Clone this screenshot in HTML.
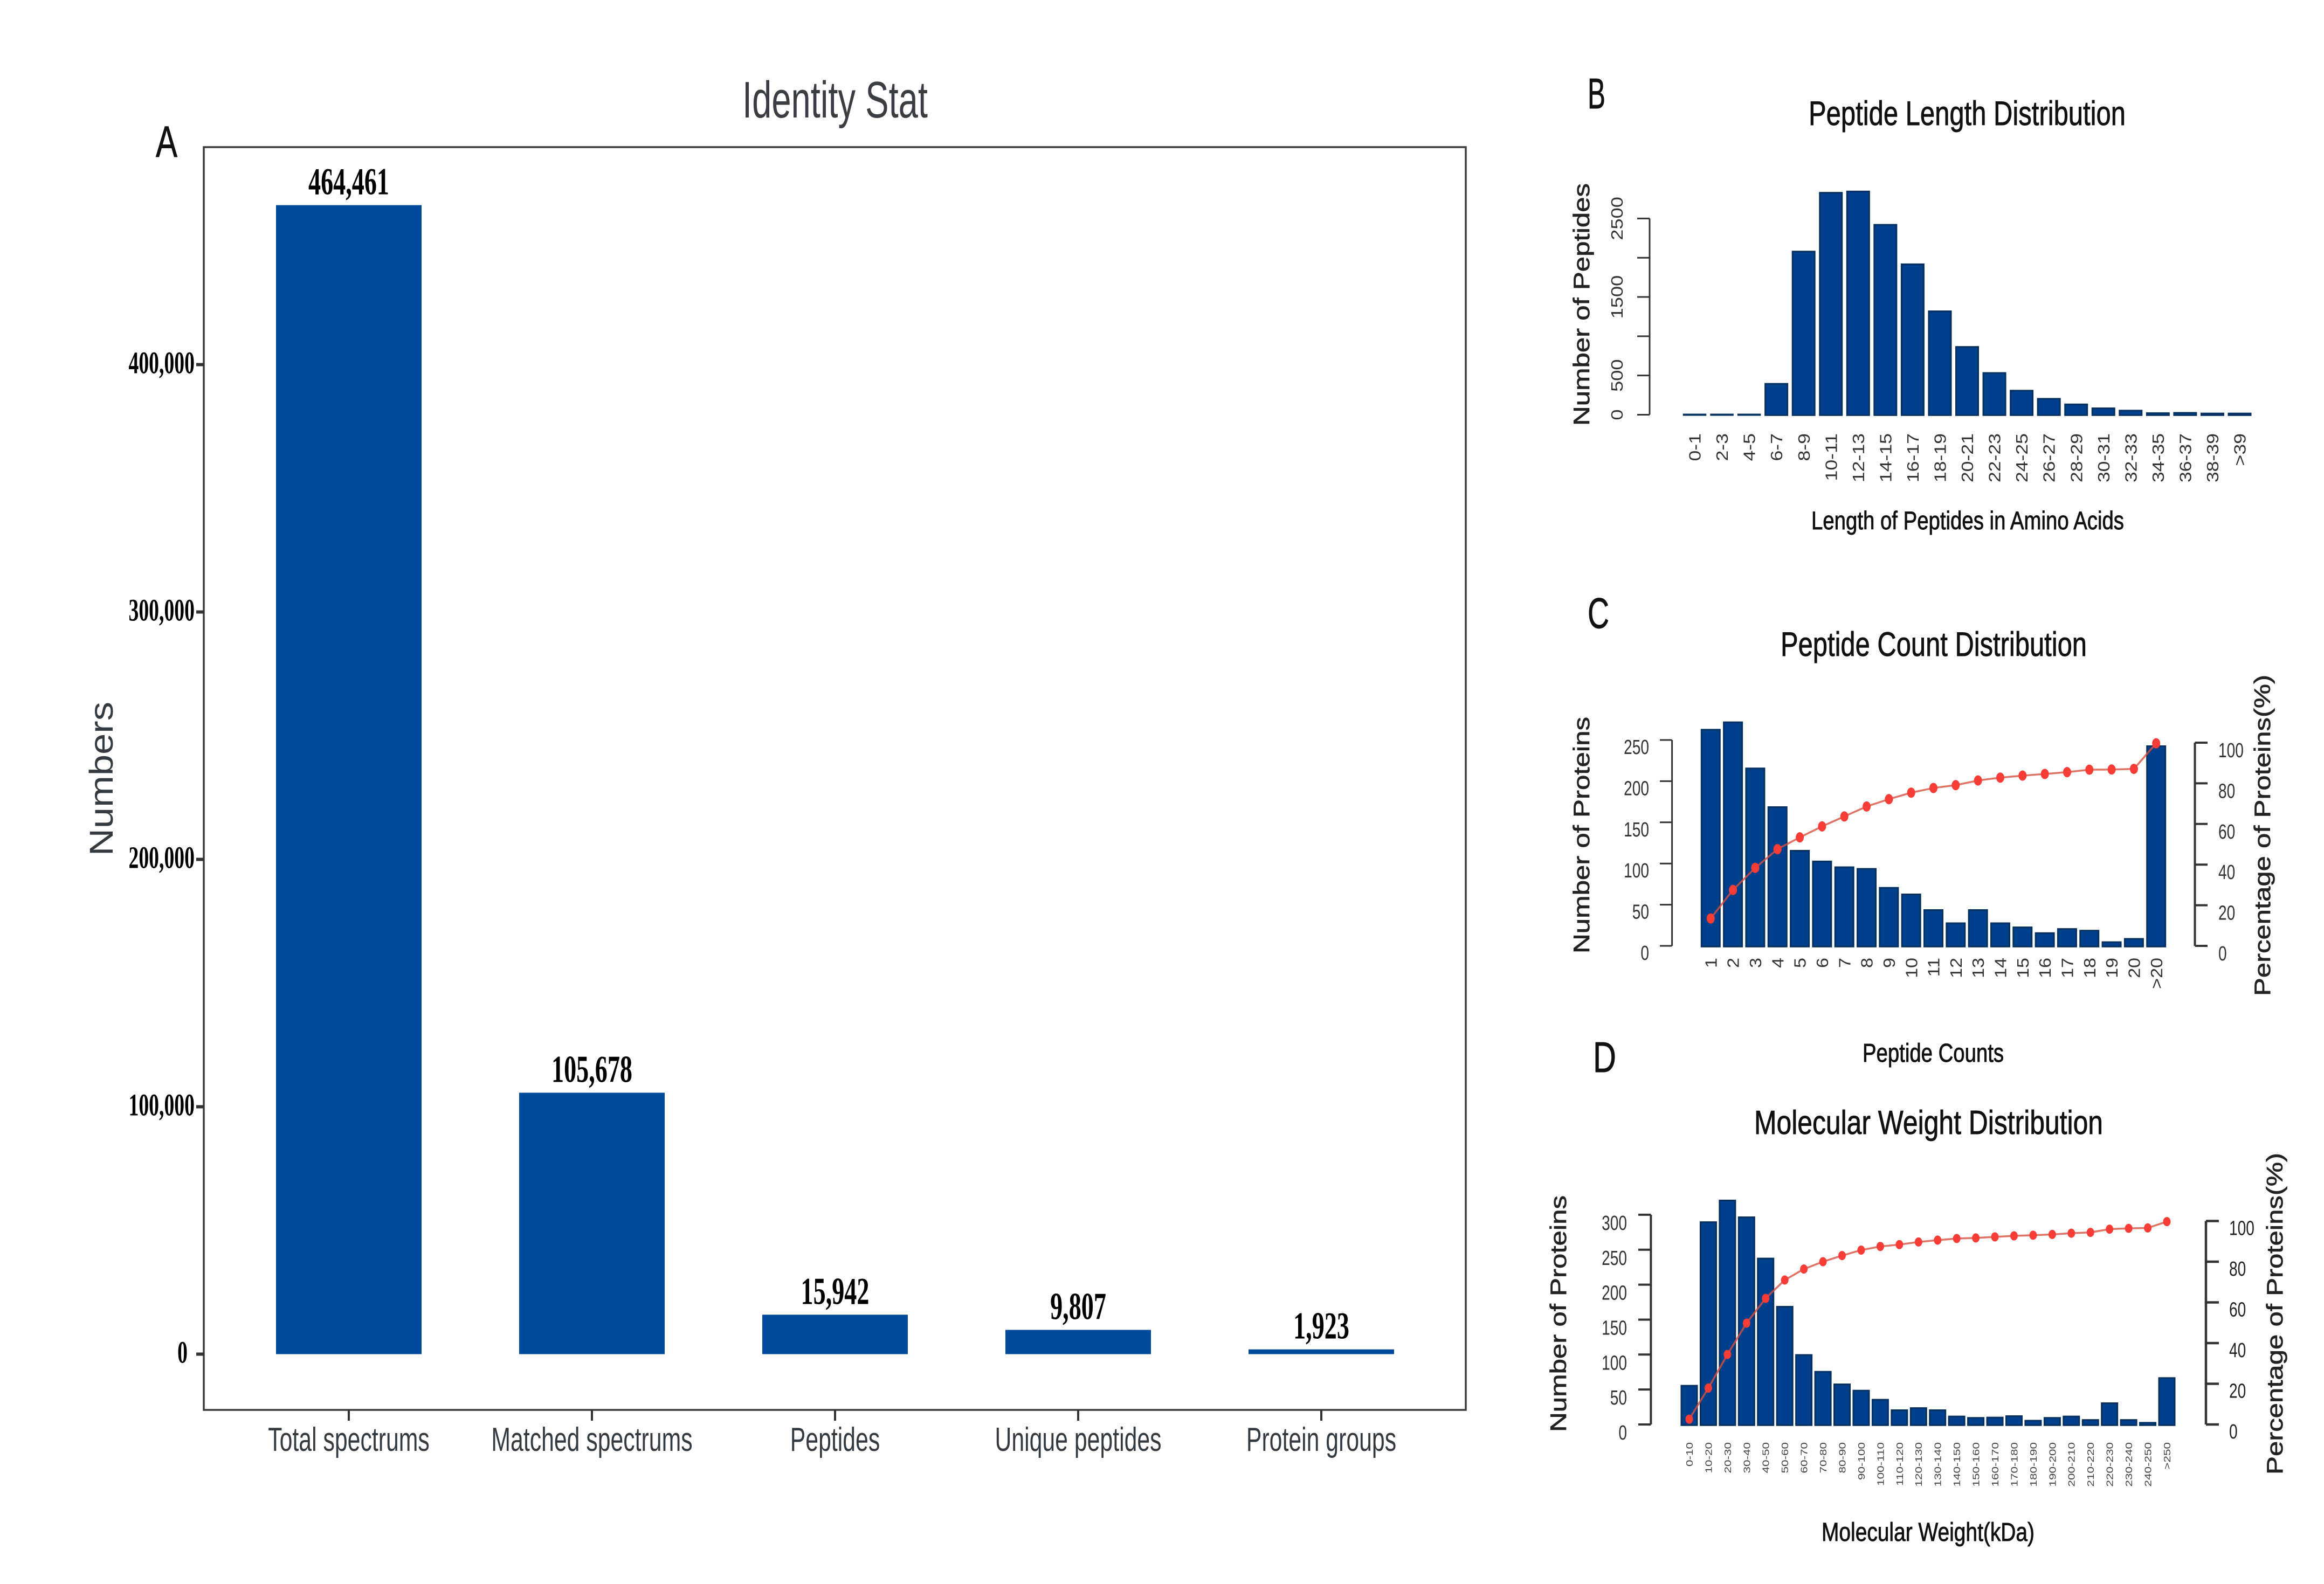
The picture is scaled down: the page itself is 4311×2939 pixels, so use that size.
<!DOCTYPE html>
<html lang="en">
<head>
<meta charset="utf-8">
<title>Identity statistics</title>
<style>
html,body{margin:0;padding:0;background:#fff;width:4311px;height:2939px;overflow:hidden}
svg{display:block}
text{font-family:"Liberation Sans",sans-serif}
.serif{font-family:"Liberation Serif",serif;font-weight:bold}
.heavy{stroke:#111;stroke-width:.9px}
.heavy2{stroke:#222;stroke-width:.7px}
</style>
</head>
<body>
<svg id="fig" xmlns="http://www.w3.org/2000/svg" width="4311" height="2939" viewBox="0 0 4311 2939">
<rect width="4311" height="2939" fill="#fff"/>

<!-- Panel A -->
<g id="panelA">
<text class="heavy" x="289" y="291" font-size="82" textLength="40" lengthAdjust="spacingAndGlyphs" fill="#111">A</text>
<text x="1377" y="218" font-size="96" textLength="344" lengthAdjust="spacingAndGlyphs" fill="#3a3d42">Identity Stat</text>
<text transform="translate(209,1588) rotate(-90)" font-size="61" textLength="286" lengthAdjust="spacingAndGlyphs" fill="#333a40">Numbers</text>
<rect x="378" y="273" width="2341" height="2343" fill="none" stroke="#3c3c3c" stroke-width="3.5"/>
</g>

<!-- Panel B -->
<g id="panelB">
<text class="heavy" x="2945" y="201" font-size="80" textLength="33" lengthAdjust="spacingAndGlyphs" fill="#111">B</text>
<text class="heavy" x="3355" y="232" font-size="63" textLength="588" lengthAdjust="spacingAndGlyphs" fill="#111">Peptide Length Distribution</text>
<text class="heavy" x="3360" y="982" font-size="47" textLength="580" lengthAdjust="spacingAndGlyphs" fill="#111">Length of Peptides in Amino Acids</text>
<text class="heavy2" transform="translate(2948,790) rotate(-90)" font-size="42" textLength="450" lengthAdjust="spacingAndGlyphs" fill="#222">Number of Peptides</text>
</g>

<!-- Panel C -->
<g id="panelC">
<text class="heavy" x="2945" y="1165" font-size="80" textLength="40" lengthAdjust="spacingAndGlyphs" fill="#111">C</text>
<text class="heavy" x="3303" y="1217" font-size="63" textLength="568" lengthAdjust="spacingAndGlyphs" fill="#111">Peptide Count Distribution</text>
<text class="heavy" x="3455" y="1970" font-size="48" textLength="262" lengthAdjust="spacingAndGlyphs" fill="#111">Peptide Counts</text>
<text class="heavy2" transform="translate(2948,1769) rotate(-90)" font-size="42" textLength="439" lengthAdjust="spacingAndGlyphs" fill="#222">Number of Proteins</text>
<text class="heavy2" transform="translate(4211,1848) rotate(-90)" font-size="42" textLength="596" lengthAdjust="spacingAndGlyphs" fill="#222">Percentage of Proteins(%)</text>
</g>

<!-- Panel D -->
<g id="panelD">
<text class="heavy" x="2955" y="1989" font-size="80" textLength="43" lengthAdjust="spacingAndGlyphs" fill="#111">D</text>
<text class="heavy" x="3254" y="2104" font-size="62" textLength="647" lengthAdjust="spacingAndGlyphs" fill="#111">Molecular Weight Distribution</text>
<text class="heavy" x="3379" y="2859" font-size="48" textLength="395" lengthAdjust="spacingAndGlyphs" fill="#111">Molecular Weight(kDa)</text>
<text class="heavy2" transform="translate(2905,2657) rotate(-90)" font-size="42" textLength="439" lengthAdjust="spacingAndGlyphs" fill="#222">Number of Proteins</text>
<text class="heavy2" transform="translate(4234,2736) rotate(-90)" font-size="42" textLength="597" lengthAdjust="spacingAndGlyphs" fill="#222">Percentage of Proteins(%)</text>
</g>
</svg>

<script>
// ---- Panel A data ----
const aCategories = ['Total spectrums', 'Matched spectrums', 'Peptides', 'Unique peptides', 'Protein groups'];
const aValues = [464461, 105678, 15942, 9807, 1923];
const aValueLabels = ['464,461', '105,678', '15,942', '9,807', '1,923'];
const aTicks = [0, 100000, 200000, 300000, 400000];
const aTickLabels = ['0', '100,000', '200,000', '300,000', '400,000'];

// ---- Panel B data ----
const bCategories = ['0-1','2-3','4-5','6-7','8-9','10-11','12-13','14-15','16-17','18-19','20-21','22-23','24-25','26-27','28-29','30-31','32-33','34-35','36-37','38-39','>39'];
const bValues = [8, 8, 8, 399, 2084, 2833, 2849, 2425, 1922, 1323, 869, 537, 312, 208, 137, 87, 58, 25, 29, 21, 21];
const bTicks = [0, 500, 1000, 1500, 2000, 2500];
const bTickLabels = ['0', '500', '', '1500', '', '2500'];

// ---- Panel C data ----
const cCategories = ['1','2','3','4','5','6','7','8','9','10','11','12','13','14','15','16','17','18','19','20','>20'];
const cCounts = [263, 272, 216, 169, 116, 103, 96, 94, 71, 63, 44, 28, 44, 28, 23, 16, 21, 19, 5, 9, 243];
const cPercent = [13.5, 27.5, 38.4, 47.6, 53.4, 58.8, 63.7, 68.6, 72.2, 75.4, 77.7, 79.1, 81.4, 82.8, 83.8, 84.6, 85.5, 86.7, 86.8, 87.1, 99.7];
const cLeftTicks = [0, 50, 100, 150, 200, 250];
const cRightTicks = [0, 20, 40, 60, 80, 100];

// ---- Panel D data ----
const dCategories = ['0-10','10-20','20-30','30-40','40-50','50-60','60-70','70-80','80-90','90-100','100-110','110-120','120-130','130-140','140-150','150-160','160-170','170-180','180-190','190-200','200-210','210-220','220-230','230-240','240-250','>250'];
const dCounts = [56, 290, 321, 297, 238, 169, 100, 76, 58, 49, 36, 21, 24, 21, 12, 10, 10.5, 12.5, 6, 10, 12, 7, 31, 7, 3, 67];
const dPercent = [2.6, 17.9, 34.4, 49.8, 62, 71, 76.4, 80, 83, 85.7, 87.5, 88.4, 89.7, 90.6, 91.4, 91.7, 92.2, 92.7, 93, 93.4, 94, 94.4, 96, 96.4, 96.6, 99.7];
const dLeftTicks = [0, 50, 100, 150, 200, 250, 300];
const dRightTicks = [0, 20, 40, 60, 80, 100];

// ---- Axis functions ----
const axA = { x: i => 647 + i * 451, y: v => 2512.5 - v * 0.00459, w: 270 };
const axB = { x: i => 3143.5 + i * 50.55, y: v => 769.5 - v * 0.14564, base: 771, w: 44 };
const axC = { x: i => 3173.3 + i * 41.32, y: v => 1755 - v * 1.528, yr: v => 1755 - v * 3.77, base: 1757, w: 37 };
const axD = { x: i => 3133.5 + i * 35.44, y: v => 2643 - v * 1.297, yr: v => 2643 - v * 3.775, base: 2645, w: 32 };

const NS = 'http://www.w3.org/2000/svg';
function mk(parent, tag, attrs, text) {
  const el = document.createElementNS(NS, tag);
  for (const k in attrs) el.setAttribute(k, attrs[k]);
  if (text !== undefined) el.textContent = text;
  parent.appendChild(el);
  return el;
}
function tickLine(parent, x1, y1, x2, y2, sw) {
  return mk(parent, 'line', { x1, y1, x2, y2, stroke: '#333', 'stroke-width': sw });
}
function hText(parent, x, y, str, fs, sx, anchor, fill) {
  return mk(parent, 'text', {
    transform: 'translate(' + x + ',' + y + ') scale(' + sx + ',1)',
    'font-size': fs, 'text-anchor': anchor, fill
  }, str);
}
function vText(parent, x, y, str, fs, sx, anchor, fill) {
  return mk(parent, 'text', {
    transform: 'translate(' + (x + fs * 0.358) + ',' + y + ') rotate(-90) scale(' + sx + ',1)',
    'font-size': fs, 'text-anchor': anchor, fill
  }, str);
}
function darkBar(parent, cx, top, base, w) {
  const h = Math.max(base - top, 3);
  const inset = 1.5;
  const sw = Math.min(3, h / 1.2);
  return mk(parent, 'rect', {
    x: cx - w / 2 + inset, y: base - h + inset * 0.5, width: w - 2 * inset, height: Math.max(h - inset, 1),
    fill: '#003f8c', stroke: '#06305f', 'stroke-width': sw
  });
}

// ---- Panel A draw ----
const gA = document.getElementById('panelA');
aTicks.forEach((v, i) => {
  const t = tickLine(gA, 364, axA.y(v), 379, axA.y(v), 6);
  
  
  const l = hText(gA, v === 0 ? 348 : 361, axA.y(v) + 16, aTickLabels[i], 58, 0.65, 'end', '#000');
  l.setAttribute('class', 'serif');
  
  
});
aCategories.forEach((c, i) => {
  const x = axA.x(i);
  const top = axA.y(aValues[i]);
  const b = mk(gA, 'rect', { x: x - axA.w / 2, y: top, width: axA.w, height: axA.y(0) - top, fill: '#004a9c' });
  
  
  const t = tickLine(gA, x, 2616, x, 2636, 4);
  
  
  const cl = hText(gA, x, 2692, c, 62, 0.69, 'middle', '#333a40');
  
  
  const vl = hText(gA, x, top - 20, aValueLabels[i], 71, 0.65, 'middle', '#000');
  vl.setAttribute('class', 'serif');
  
  
});

// ---- Panel B draw ----
const gB = document.getElementById('panelB');
const bAxisLine = tickLine(gB, 3060, axB.y(0), 3060, axB.y(2500), 3);


bTicks.forEach((v, i) => {
  const t = tickLine(gB, 3037, axB.y(v), 3060, axB.y(v), 3);
  
  
  if (bTickLabels[i]) {
    const l = vText(gB, 2999, axB.y(v), bTickLabels[i], 31, 1.17, 'middle', '#333');
    
    
  }
});
bCategories.forEach((c, i) => {
  const x = axB.x(i);
  const b = darkBar(gB, x, axB.y(bValues[i]), axB.base, axB.w);
  
  
  const l = vText(gB, x, 804, c, 31, 1.15, 'end', '#333');
  
  
});

// ---- Combo panels C and D ----
function curve(g, ax, pct, rx, ry) {
  const pts = pct.map((p, i) => ax.x(i) + ',' + ax.yr(p)).join(' ');
  const line = mk(g, 'polyline', { points: pts, fill: 'none', stroke: '#d8503f', 'stroke-width': 3.5, 'stroke-opacity': 0.8 });
  
  
  pct.forEach((p, i) => {
    const m = mk(g, 'ellipse', { cx: ax.x(i), cy: ax.yr(p), rx, ry, fill: '#f83c36' });
    
    
  });
}

const gC = document.getElementById('panelC');
const cLeftAxis = tickLine(gC, 3101.6, axC.y(0), 3101.6, axC.y(250), 3);


cLeftTicks.forEach(v => {
  const t = tickLine(gC, 3079, axC.y(v), 3101.6, axC.y(v), 3);
  
  
  const l = hText(gC, 3059, axC.y(v) + 26, String(v), 38, 0.74, 'end', '#333');
  
  
});
const cRightAxis = tickLine(gC, 4071.5, axC.yr(0), 4071.5, axC.yr(100), 4);


cRightTicks.forEach(v => {
  const t = tickLine(gC, 4071.5, axC.yr(v), 4095, axC.yr(v), 4);
  
  
  const l = hText(gC, 4115, axC.yr(v) + 27, String(v), 38, 0.74, 'start', '#333');
  
  
});
cCategories.forEach((c, i) => {
  const x = axC.x(i);
  const b = darkBar(gC, x, axC.y(cCounts[i]), axC.base, axC.w);
  
  
  const l = vText(gC, x, 1777, c, 31, 1.1, 'end', '#333');
  
  
});
curve(gC, axC, cPercent, 7.5, 9.5);

const gD = document.getElementById('panelD');
const dLeftAxis = tickLine(gD, 3062.4, axD.y(0), 3062.4, axD.y(300), 4);


dLeftTicks.forEach(v => {
  const t = tickLine(gD, 3039, axD.y(v), 3062.4, axD.y(v), 4);
  
  
  const l = hText(gD, 3018, axD.y(v) + 28, String(v), 38, 0.74, 'end', '#333');
  
  
});
const dRightAxis = tickLine(gD, 4092, axD.yr(0), 4092, axD.yr(100), 4.5);


dRightTicks.forEach(v => {
  const t = tickLine(gD, 4092, axD.yr(v), 4116, axD.yr(v), 4.5);
  
  
  const l = hText(gD, 4135, axD.yr(v) + 26, String(v), 38, 0.74, 'start', '#222');
  
  
});
dCategories.forEach((c, i) => {
  const x = axD.x(i);
  const b = darkBar(gD, x, axD.y(dCounts[i]), axD.base, axD.w);
  
  
  const l = vText(gD, x, 2676, c, 18, 1.25, 'end', '#444');
  
  
});
curve(gD, axD, dPercent, 7, 8.5);
</script>
</body>
</html>
